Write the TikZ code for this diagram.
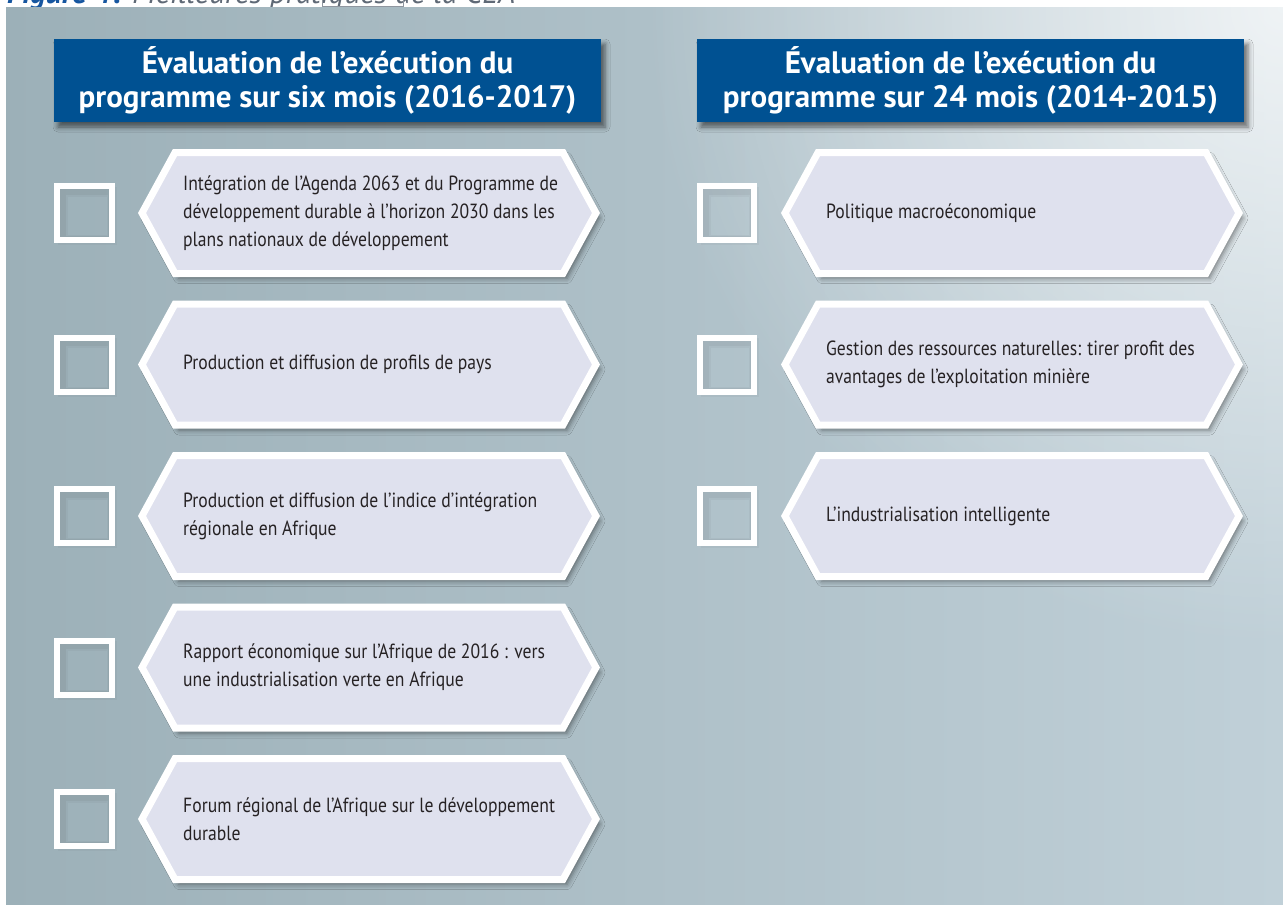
\documentclass[tikz,border=0pt]{standalone}
\usepackage{fontspec}
\setmainfont{PT Sans}
\newfontfamily\condfont[FakeStretch=0.86]{PT Sans}
\usetikzlibrary{shadows.blur,fadings}

\definecolor{panelL}{RGB}{156,176,184}
\definecolor{panelR}{RGB}{192,208,216}
\definecolor{headblue}{RGB}{0,81,146}
\definecolor{hexfill}{RGB}{223,225,238}
\definecolor{bodytext}{RGB}{38,34,36}
\definecolor{figblue}{RGB}{22,86,160}
\definecolor{figgrey}{RGB}{95,105,118}

\tikzfading[name=glow, inner color=transparent!25, outer color=transparent!100]

\tikzset{
  headbox/.style={fill=headblue, text=white, minimum width=547pt, minimum height=83pt,
    inner sep=0pt, align=center, font=\bfseries\fontsize{31}{34}\selectfont,
    blur shadow={shadow xshift=4pt, shadow yshift=-5pt, shadow blur radius=5pt, shadow opacity=55}},
  hexshape/.style={fill=hexfill, draw=white, line width=7pt, line join=miter,
    blur shadow={shadow xshift=4pt, shadow yshift=-5pt, shadow blur radius=5pt, shadow opacity=45}},
  tickframe/.style={draw=white, line width=6pt, line join=miter},
  tickshade/.style={draw=black, line join=miter},
  hextext/.style={anchor=west, align=left, text=bodytext, inner sep=0pt,
    font=\condfont\fontsize{20.5}{28}\selectfont},
  pics/hexbox/.style={code={
    \path[hexshape] (-227,0) -- (-194,-60.5) -- (194,-60.5) -- (227,0)
      -- (194,60.5) -- (-194,60.5) -- cycle;
  }},
  pics/tickbox/.style={code={
    \draw[tickshade, line width=10pt, opacity=0.03] (-24.25,-24.25) ++(3,3) rectangle ++(48.5,48.5);
    \draw[tickshade, line width=7pt, opacity=0.04] (-24.25,-24.25) ++(2.5,2.5) rectangle ++(48.5,48.5);
    \draw[tickframe] (-27.25,-27) rectangle (27.25,27);
  }},
}

\begin{document}
\begin{tikzpicture}[x=1pt, y=-1pt]
\useasboundingbox (0,0) rectangle (1283,905);
\fill[white] (0,0) rectangle (1283,905);

% caption line, cut by the top of the panel
\begin{scope}
  \clip (0,0) rectangle (1283,7);
  \node[anchor=base west, inner sep=0pt, font=\fontsize{31}{31}\selectfont\itshape] (caption) at (7,3)
    {\textcolor{figblue}{\bfseries Figure 4:} \textcolor{figgrey}{Meilleures pratiques de la CEA}};
  \draw[figgrey!70, line width=0.8pt] (322,-10) rectangle (403,6);
\end{scope}

% background panel
\shade[left color=panelL, right color=panelR] (6,7) rectangle (1283,905);
\fill[white, path fading=glow] (1283,7) circle (640);

% column headings
\node[headbox] (headL) at (327.5,80.5) {Évaluation de l’exécution du\\programme sur six mois (2016-2017)};
\node[headbox] (headR) at (970.5,80.5) {Évaluation de l’exécution du\\programme sur 24 mois (2014-2015)};

% left column
\foreach \cy in {213,364.5,516,667.5,819} {
  \pic at (369,\cy) {hexbox};
  \pic at (84.5,\cy) {tickbox};
}
\node[hextext] (l1) at (183,213) {Intégration de l’Agenda 2063 et du Programme de\\développement durable à l’horizon 2030 dans les\\plans nationaux de développement};
\node[hextext] (l2) at (183,364.5) {Production et diffusion de profils de pays};
\node[hextext] (l3) at (183,516) {Production et diffusion de l’indice d’intégration\\régionale en Afrique};
\node[hextext] (l4) at (183,667.5) {Rapport économique sur l’Afrique de 2016 : vers\\une industrialisation verte en Afrique};
\node[hextext] (l5) at (183,819) {Forum régional de l’Afrique sur le développement\\durable};

% right column
\foreach \cy in {213,364.5,516} {
  \pic at (1012,\cy) {hexbox};
  \pic at (727,\cy) {tickbox};
}
\node[hextext] (r1) at (826,213) {Politique macroéconomique};
\node[hextext] (r2) at (826,364.5) {Gestion des ressources naturelles: tirer profit des\\avantages de l’exploitation minière};
\node[hextext] (r3) at (826,516) {L’industrialisation intelligente};
\end{tikzpicture}
\end{document}
